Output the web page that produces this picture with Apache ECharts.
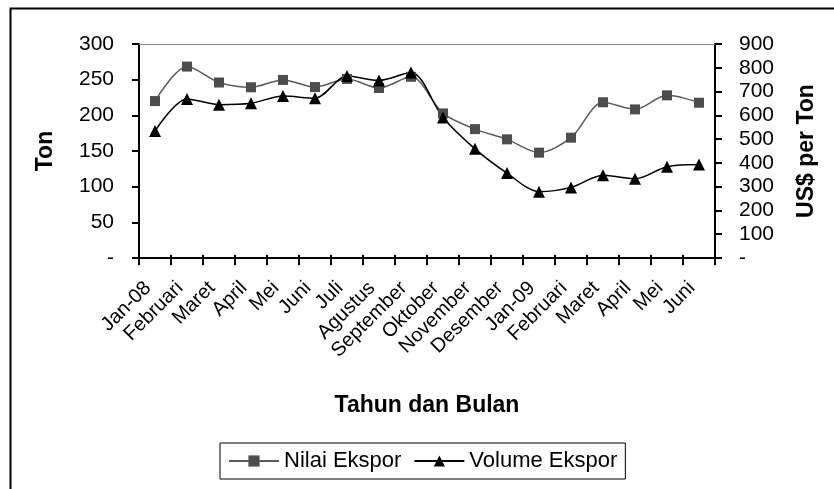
<!DOCTYPE html>
<html>
<head>
<meta charset="utf-8">
<script src="https://cdn.jsdelivr.net/npm/echarts@6/dist/echarts.min.js"></script>
<style>
html,body{margin:0;padding:0;background:#fff;}
#chart{width:834px;height:489px;}
</style>
</head>
<body>
<div id="chart"></div>
<script>
var categories = ['Jan-08','Februari','Maret','April','Mei','Juni','Juli','Agustus','September','Oktober','November','Desember','Jan-09','Februari','Maret','April','Mei','Juni'];
var nilaiEkspor = [660, 805, 738, 718, 749, 719, 753, 715, 762, 608, 542, 499, 443, 506, 655, 625, 684, 653];
var volumeEkspor = [178, 223, 215, 217, 227, 224, 255, 249, 260, 197, 153, 119, 93, 99, 116, 111, 128, 131];

var FONT = 'Liberation Sans, Arial, sans-serif';
var chart = echarts.init(document.getElementById('chart'));
chart.setOption({
  animation: false,
  backgroundColor: '#fff',
  graphic: [{
    type: 'rect', left: 8, top: 6, z: -1,
    shape: {width: 900, height: 600},
    style: {fill: 'none', stroke: '#000', lineWidth: 2}
  }],
  grid: {left: 139, right: 119, top: 44, bottom: 231, containLabel: false},
  legend: {
    data: ['Nilai Ekspor', 'Volume Ekspor'],
    left: 220, top: 443,
    borderColor: '#000', borderWidth: 1,
    padding: [7, 8, 7, 8],
    itemGap: 12, itemWidth: 50, itemHeight: 14,
    textStyle: {fontFamily: FONT, fontSize: 22, color: '#000'}
  },
  xAxis: [{
    type: 'category', data: categories, boundaryGap: true,
    name: 'Tahun dan Bulan', nameLocation: 'middle', nameGap: 136,
    nameTextStyle: {fontFamily: FONT, fontSize: 23, fontWeight: 'bold', color: '#000'},
    axisLine: {lineStyle: {color: '#000', width: 2}},
    axisTick: {show: true, inside: false, length: 7, interval: 0, lineStyle: {color: '#000', width: 2}},
    axisLabel: {interval: 0, rotate: 45, margin: 34, verticalAlign: 'bottom', fontFamily: FONT, fontSize: 20, color: '#000'},
    splitLine: {show: false}
  }, {
    type: 'category', data: categories, boundaryGap: true, position: 'bottom',
    axisLine: {show: false},
    axisTick: {show: true, inside: true, length: 3, interval: 0, lineStyle: {color: '#000', width: 2}},
    axisLabel: {show: false}, splitLine: {show: false}
  }, {
    type: 'category', data: categories, boundaryGap: true, position: 'top',
    axisLine: {lineStyle: {color: '#888', width: 1}},
    axisTick: {show: false}, axisLabel: {show: false}, splitLine: {show: false}
  }],
  yAxis: [{
    type: 'value', min: 0, max: 300, interval: 50, position: 'left',
    name: 'Ton', nameLocation: 'middle', nameGap: 82, nameRotate: 90,
    nameTextStyle: {fontFamily: FONT, fontSize: 23, fontWeight: 'bold', color: '#000'},
    axisLine: {show: true, lineStyle: {color: '#000', width: 2}},
    axisTick: {show: true, length: 7, lineStyle: {color: '#000', width: 2}},
    axisLabel: {margin: 25, fontFamily: FONT, fontSize: 21, color: '#000',
      formatter: function (v) { return v === 0 ? '-' : String(v); }},
    splitLine: {show: false}
  }, {
    type: 'value', min: 0, max: 900, interval: 100, position: 'right',
    name: 'US$ per Ton', nameLocation: 'middle', nameGap: 80, nameRotate: 90,
    nameTextStyle: {fontFamily: FONT, fontSize: 23, fontWeight: 'bold', color: '#000'},
    axisLine: {show: true, lineStyle: {color: '#000', width: 2}},
    axisTick: {show: true, length: 7, lineStyle: {color: '#000', width: 2}},
    axisLabel: {margin: 24, fontFamily: FONT, fontSize: 21, color: '#000',
      formatter: function (v) { return v === 0 ? '-' : String(v); }},
    splitLine: {show: false}
  }],
  series: [{
    name: 'Nilai Ekspor', type: 'line', xAxisIndex: 0, yAxisIndex: 1,
    data: nilaiEkspor, smooth: 0.3,
    symbol: 'rect', symbolSize: 10, showAllSymbols: true,
    lineStyle: {color: '#5a5a5a', width: 1.5},
    itemStyle: {color: '#4d4d4d'}
  }, {
    name: 'Volume Ekspor', type: 'line', xAxisIndex: 0, yAxisIndex: 0,
    data: volumeEkspor, smooth: 0.3,
    symbol: 'triangle', symbolSize: 12, showAllSymbols: true,
    lineStyle: {color: '#000', width: 1.5},
    itemStyle: {color: '#000'}
  }]
});
</script>
</body>
</html>
